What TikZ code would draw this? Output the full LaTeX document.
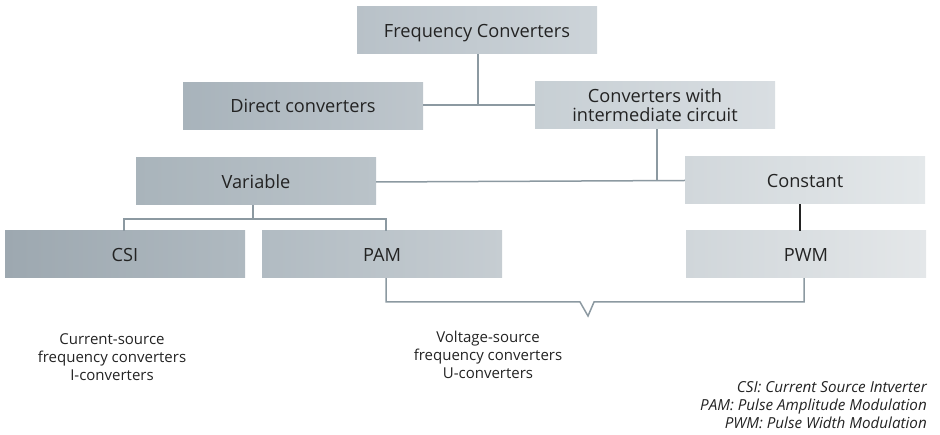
\documentclass[tikz,border=0pt]{standalone}
\usepackage{fontspec}
\setmainfont{Open Sans}
\usetikzlibrary{calc}
\definecolor{txt}{HTML}{232323}
\definecolor{ln}{HTML}{8C99A1}
\definecolor{fcL}{HTML}{B8C1C8}\definecolor{fcR}{HTML}{CDD4D9}
\definecolor{dcL}{HTML}{A8B3BB}\definecolor{dcR}{HTML}{BEC6CC}
\definecolor{cwL}{HTML}{C7CFD4}\definecolor{cwR}{HTML}{D9DEE2}
\definecolor{vaL}{HTML}{A9B4BB}\definecolor{vaR}{HTML}{BAC3C9}
\definecolor{coL}{HTML}{D1D7DB}\definecolor{coR}{HTML}{E4E8EA}
\definecolor{csL}{HTML}{9DA8B0}\definecolor{csR}{HTML}{AFB9C0}
\definecolor{paL}{HTML}{B1BBC2}\definecolor{paR}{HTML}{C6CDD2}
\definecolor{pwL}{HTML}{D0D6DA}\definecolor{pwR}{HTML}{E4E7E9}
\tikzset{
  x=1pt,y=-1pt,
  box/.style={minimum width=240pt,minimum height=47pt,inner sep=0pt,
    text=txt,font=\fontsize{18.2}{19}\selectfont,align=center},
  single/.style={text height=16pt,text depth=2pt},
  conn/.style={draw=ln,line width=1.5pt},
  note/.style={text=txt,font=\fontsize{15}{18.3}\selectfont,align=center,inner sep=0pt},
  legend/.style={text=txt,font=\fontsize{15.2}{17.8}\selectfont\itshape,align=right,inner sep=0pt,anchor=east}
}
\begin{document}
\begin{tikzpicture}
\useasboundingbox (0,0) rectangle (940,435);
\node[box,single,left color=fcL,right color=fcR] (fc) at (477,30.5) {Frequency Converters};
\node[box,single,left color=dcL,right color=dcR] (dc) at (303,106) {Direct converters};
\node[box,left color=cwL,right color=cwR] (cw) at (655,105.5) {Converters with\\intermediate circuit};
\node[box,single,left color=vaL,right color=vaR] (var) at (256,181.5) {Variable};
\node[box,single,left color=coL,right color=coR] (con) at (805,180.5) {Constant};
\node[box,single,left color=csL,right color=csR] (csi) at (125,254.5) {CSI};
\node[box,single,left color=paL,right color=paR] (pam) at (382,254.5) {PAM};
\node[box,single,left color=pwL,right color=pwR] (pwm) at (806,254.5) {PWM};
% connectors
\draw[conn] ($(fc.south)+(1,0)$) -- ($(fc.south |- dc.east)+(1,-1)$);
\draw[conn] ($(dc.east)+(0,-1)$) -- ($(cw.west)+(0,-0.5)$);
\draw[conn] ($(cw.south)+(2,0)$) coordinate (cws) -- (cws |- con.west);
\draw[conn] ($(var.east)+(0,0.5)$) -- (con.west);
\draw[conn] ($(var.south)+(-3,0)$) coordinate (vs) -- ++(0,14) coordinate (vj);
\coordinate (lft) at ($(csi.north)+(-1,0)$);
\coordinate (rgt) at ($(pam.north)+(4,0)$);
\draw[conn] (lft) |- (vj) -| (rgt);
\draw[line width=1.5pt,draw=txt] ($(con.south)+(-5,0)$) -- ($(pwm.north)+(-6,0)$);
\coordinate (pb) at ($(pam.south)+(4,0)$);
\coordinate (wb) at ($(pwm.south)+(-2,0)$);
\coordinate (n1) at (580,302);
\coordinate (n2) at (588,316);
\coordinate (n3) at (594,302);
\draw[conn] (pb) |- (n1) -- (n2) -- (n3) -| (wb);
% notes
\node[note] (cs) at (112,357) {Current-source\\frequency converters\\I-converters};
\node[note] (vsrc) at (488,355) {Voltage-source\\frequency converters\\U-converters};
\node[legend] (leg) at (927,405) {CSI: Current Source Intverter\\PAM: Pulse Amplitude Modulation\\PWM: Pulse Width Modulation};
\end{tikzpicture}
\end{document}
